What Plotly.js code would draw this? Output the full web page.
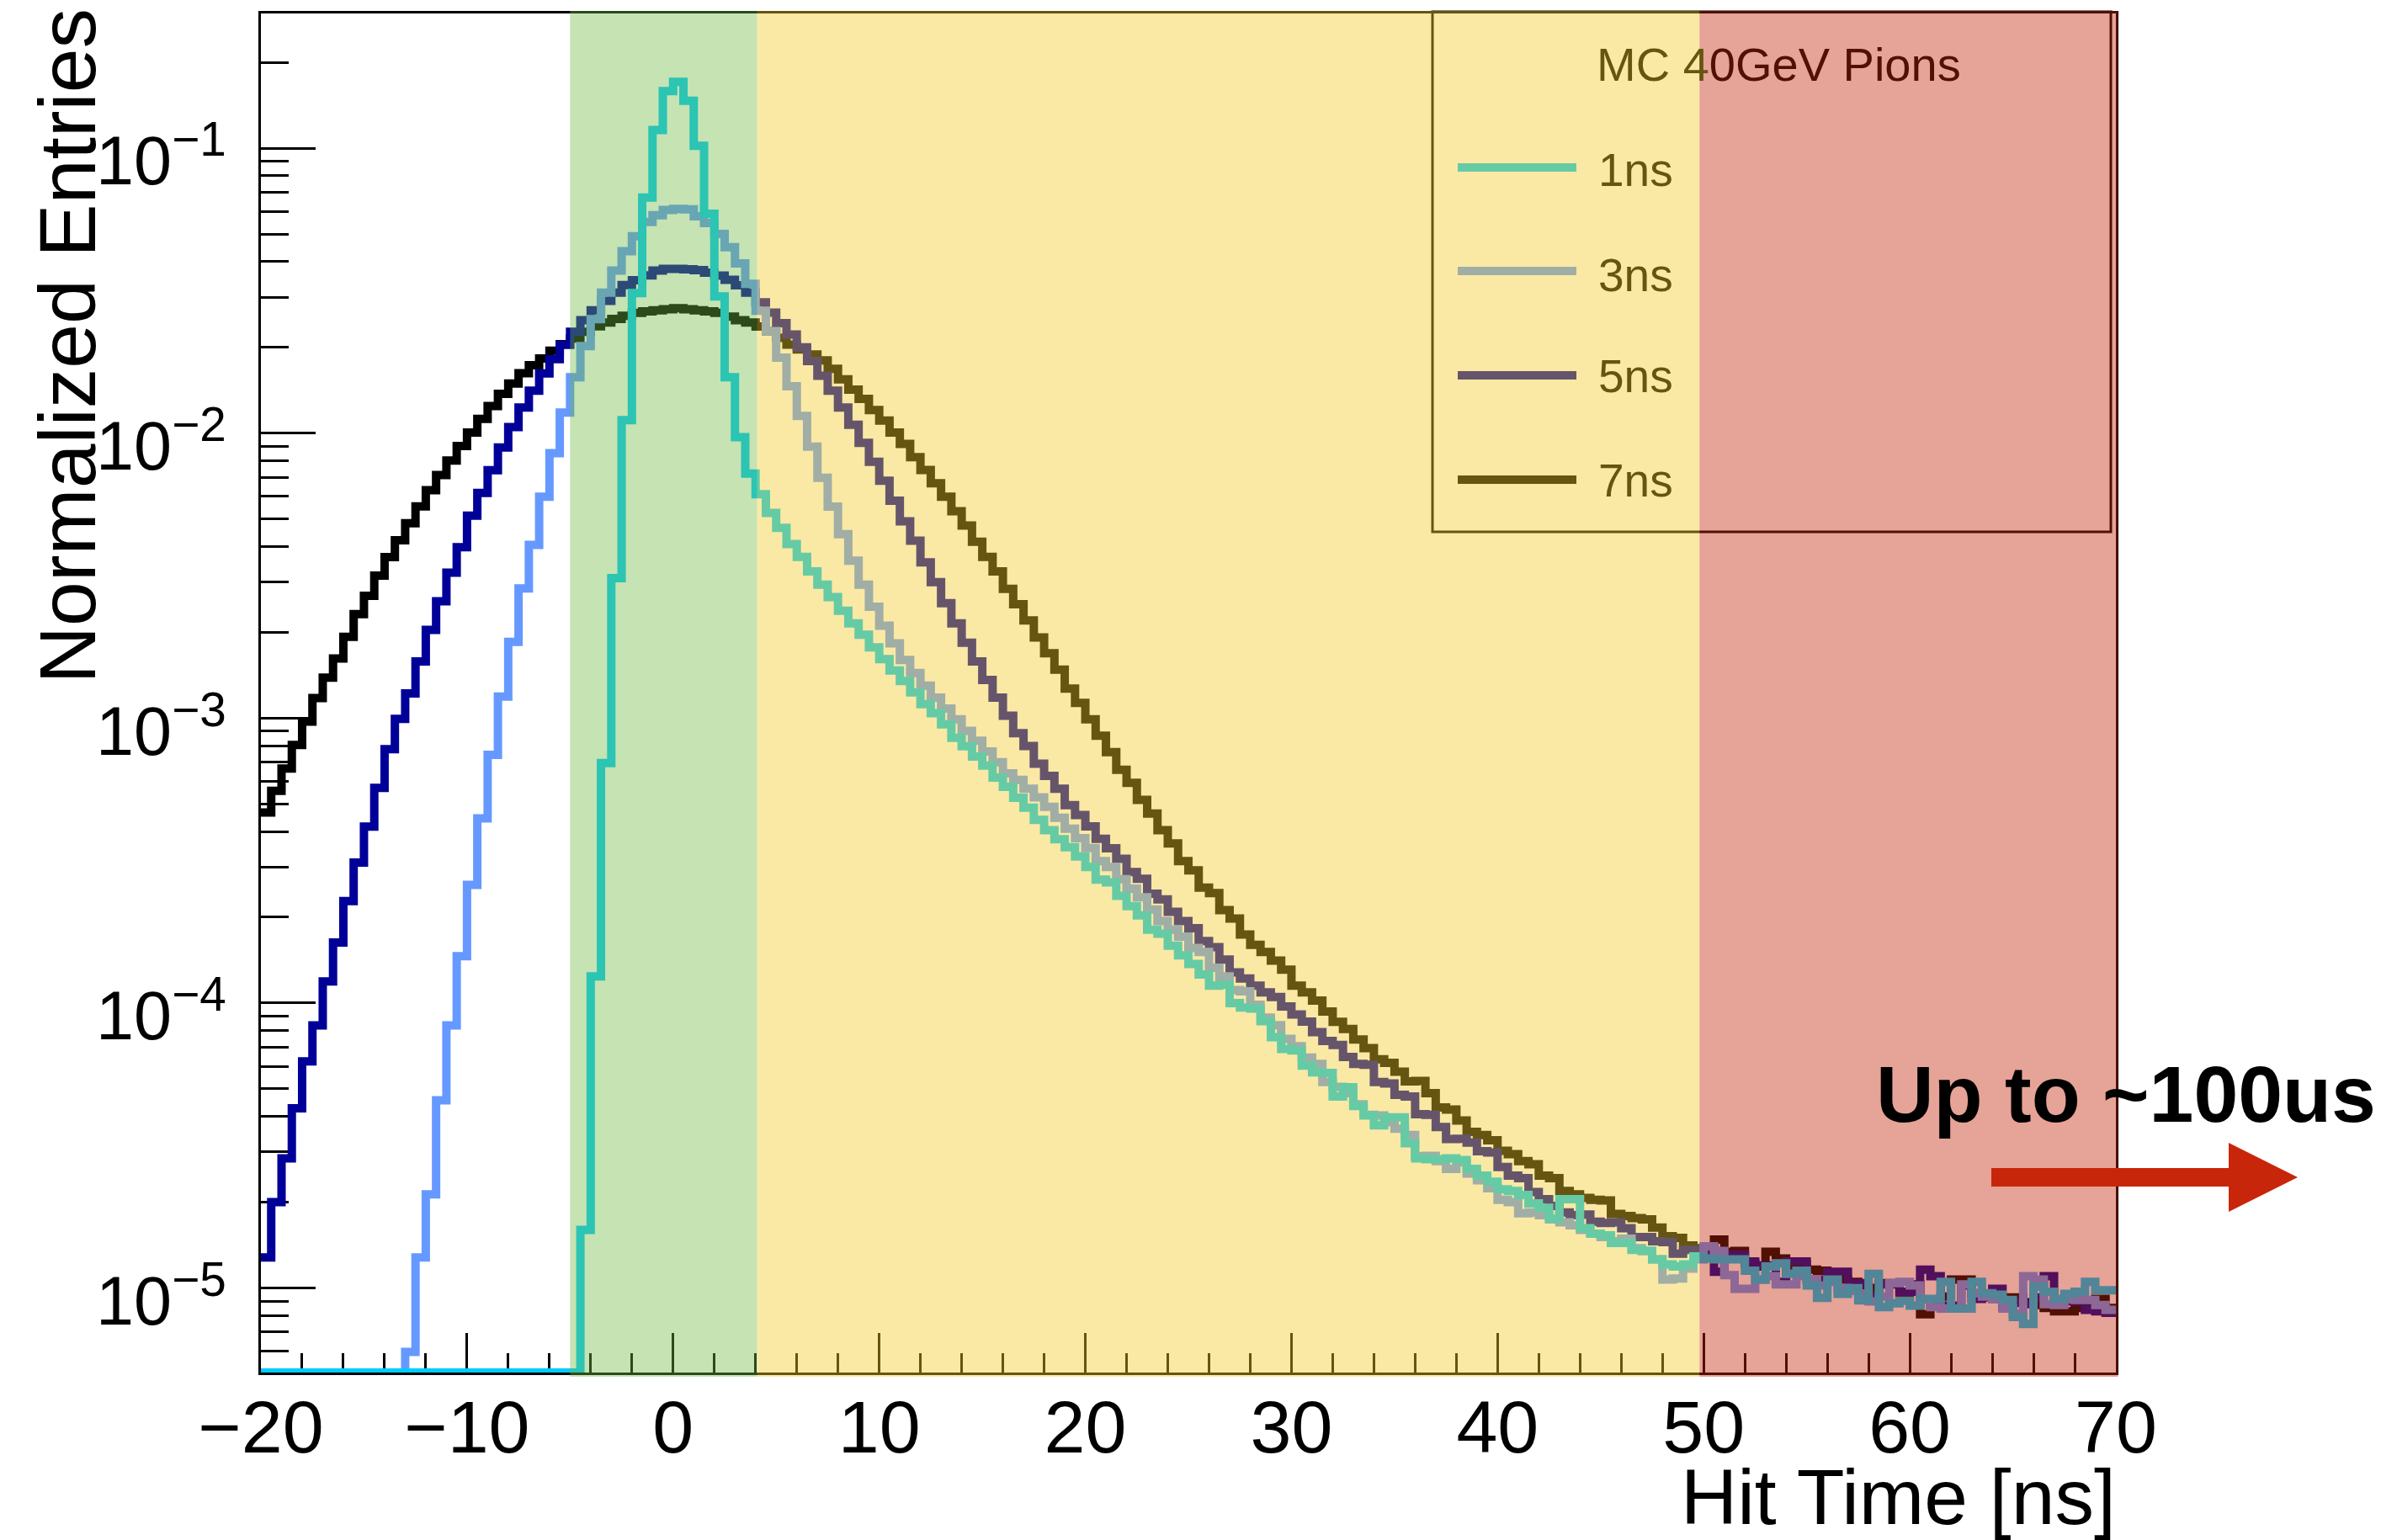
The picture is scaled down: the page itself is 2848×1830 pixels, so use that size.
<!DOCTYPE html>
<html>
<head>
<meta charset="utf-8">
<script src="https://cdn.plot.ly/plotly-3.0.1.min.js"></script>
<style>
html,body{margin:0;padding:0;background:#ffffff;}
#chart{width:2848px;height:1830px;}
</style>
</head>
<body>
<div id="chart"></div>
<script>
// ---------------- DATA ----------------
// Histograms of hit time, 180 bins of 0.5 ns from -20 ns to 70 ns (bin i = [-20+0.5i, -19.5+0.5i]).
const binLow = -20;
const binWidth = 0.5;
const seriesNames = ['1ns', '3ns', '5ns', '7ns'];
const legendTitle = 'MC 40GeV Pions';
const xTitle = 'Hit Time [ns]';
const yTitle = 'Normalized Entries';
const noteText = 'Up to ~100us';
const xTickVals = [-20, -10, 0, 10, 20, 30, 40, 50, 60, 70];
const yTickVals = [1e-5, 1e-4, 1e-3, 1e-2, 1e-1];
const yTickText = ['10<sup>\u22125</sup>', '10<sup>\u22124</sup>', '10<sup>\u22123</sup>', '10<sup>\u22122</sup>', '10<sup>\u22121</sup>'];

const entries1ns = [
  0,0,0,0,0,0,0,0,0,0, 0,0,0,0,0,0,0,0,0,0, 0,0,0,0,0,0,0,0,0,0, 0,
  1.60e-5, 1.24e-4, 6.95e-4, 3.10e-3, 1.11e-2, 3.10e-2, 6.71e-2, 1.159e-1, 1.585e-1,
  1.710e-1, 1.466e-1, 1.019e-1, 5.89e-2, 3.02e-2, 1.57e-2, 9.68e-3, 7.21e-3, 6.11e-3, 5.25e-3,
  4.65e-3, 4.08e-3, 3.68e-3, 3.27e-3, 2.94e-3, 2.66e-3, 2.38e-3, 2.15e-3, 1.96e-3, 1.77e-3,
  1.61e-3, 1.47e-3, 1.35e-3, 1.23e-3, 1.12e-3, 1.04e-3, 9.51e-4, 8.53e-4, 7.96e-4, 7.33e-4,
  6.81e-4, 6.18e-4, 5.74e-4, 5.25e-4, 4.85e-4, 4.39e-4, 4.04e-4, 3.76e-4, 3.52e-4, 3.27e-4,
  3.00e-4, 2.71e-4, 2.65e-4, 2.38e-4, 2.19e-4, 2.03e-4, 1.81e-4, 1.75e-4, 1.59e-4, 1.47e-4,
  1.37e-4, 1.26e-4, 1.15e-4, 1.16e-4, 1.00e-4, 9.64e-5, 9.57e-5, 8.63e-5, 7.59e-5, 6.90e-5,
  6.82e-5, 6.03e-5, 5.71e-5, 5.68e-5, 4.70e-5, 5.06e-5, 4.35e-5, 4.03e-5, 3.72e-5, 3.97e-5,
  3.97e-5, 3.22e-5, 2.85e-5, 2.83e-5, 2.83e-5, 2.85e-5, 2.81e-5, 2.62e-5, 2.48e-5, 2.36e-5,
  2.22e-5, 2.19e-5, 2.12e-5, 1.98e-5, 1.91e-5, 1.75e-5, 2.05e-5, 2.05e-5, 1.62e-5, 1.55e-5,
  1.53e-5, 1.44e-5, 1.44e-5, 1.36e-5, 1.35e-5, 1.26e-5, 1.21e-5, 1.19e-5, 1.21e-5, 1.29e-5,
  1.27e-5, 1.26e-5, 1.26e-5, 1.26e-5, 1.15e-5, 1.07e-5, 1.19e-5, 1.22e-5, 1.12e-5, 1.15e-5,
  1.02e-5, 9.23e-6, 1.07e-5, 9.53e-6, 9.98e-6, 9.04e-6, 1.12e-5, 8.57e-6, 8.83e-6, 9.02e-6,
  8.67e-6, 9.16e-6, 9.16e-6, 1.05e-5, 8.47e-6, 8.47e-6, 1.05e-5, 9.59e-6, 9.48e-6, 9.08e-6,
  7.91e-6, 7.48e-6, 1.01e-5, 9.70e-6, 9.16e-6, 9.53e-6, 9.70e-6, 1.05e-5, 9.82e-6, 9.82e-6
];

const entries3ns = [
  0,0,0,0,0,0,0,0,0,0, 0,0,0,0,
  5.97e-6, 1.28e-5, 2.13e-5, 4.56e-5, 8.34e-5, 1.46e-4,
  2.60e-4, 4.45e-4, 7.43e-4, 1.19e-3, 1.85e-3, 2.85e-3, 4.05e-3, 5.98e-3, 8.51e-3, 1.18e-2,
  1.57e-2, 2.02e-2, 2.51e-2, 3.11e-2, 3.72e-2, 4.35e-2, 4.91e-2, 5.51e-2, 5.82e-2, 6.07e-2,
  6.12e-2, 6.10e-2, 5.77e-2, 5.46e-2, 5.00e-2, 4.49e-2, 3.94e-2, 3.34e-2, 2.69e-2, 2.28e-2,
  1.84e-2, 1.46e-2, 1.15e-2, 8.97e-3, 6.97e-3, 5.52e-3, 4.42e-3, 3.57e-3, 2.94e-3, 2.46e-3,
  2.11e-3, 1.83e-3, 1.60e-3, 1.44e-3, 1.30e-3, 1.18e-3, 1.08e-3, 9.91e-4, 9.02e-4, 8.32e-4,
  7.64e-4, 7.00e-4, 6.40e-4, 6.07e-4, 5.65e-4, 5.27e-4, 4.88e-4, 4.47e-4, 4.09e-4, 3.79e-4,
  3.50e-4, 3.15e-4, 3.00e-4, 2.72e-4, 2.52e-4, 2.35e-4, 2.13e-4, 1.94e-4, 1.81e-4, 1.71e-4,
  1.56e-4, 1.51e-4, 1.33e-4, 1.24e-4, 1.11e-4, 1.10e-4, 9.86e-5, 8.89e-5, 8.36e-5, 7.48e-5,
  7.05e-5, 6.43e-5, 6.11e-5, 5.28e-5, 5.08e-5, 4.83e-5, 4.41e-5, 4.05e-5, 4.03e-5, 3.82e-5,
  3.62e-5, 3.44e-5, 2.90e-5, 2.91e-5, 2.79e-5, 2.62e-5, 2.76e-5, 2.52e-5, 2.39e-5, 2.24e-5,
  2.04e-5, 2.00e-5, 1.83e-5, 1.84e-5, 1.80e-5, 1.74e-5, 1.70e-5, 1.66e-5, 1.60e-5, 1.55e-5,
  1.51e-5, 1.46e-5, 1.49e-5, 1.38e-5, 1.35e-5, 1.26e-5, 1.07e-5, 1.08e-5, 1.17e-5, 1.26e-5,
  1.40e-5, 1.35e-5, 1.11e-5, 9.93e-6, 9.93e-6, 1.07e-5, 1.10e-5, 1.03e-5, 1.03e-5, 1.10e-5,
  1.07e-5, 1.02e-5, 1.05e-5, 1.00e-5, 9.77e-6, 9.55e-6, 8.97e-6, 9.33e-6, 1.04e-5, 1.05e-5,
  1.02e-5, 9.12e-6, 8.57e-6, 8.47e-6, 8.47e-6, 1.03e-5, 9.59e-6, 9.33e-6, 9.12e-6, 8.47e-6,
  8.13e-6, 1.10e-5, 1.07e-5, 8.77e-6, 8.71e-6, 9.12e-6, 9.08e-6, 9.08e-6, 8.71e-6, 8.38e-6
];

const entries5ns = [
  1.28e-5, 2.00e-5, 2.85e-5, 4.27e-5, 6.24e-5, 8.34e-5, 1.19e-4, 1.63e-4, 2.28e-4, 3.11e-4,
  4.16e-4, 5.69e-4, 7.78e-4, 9.93e-4, 1.22e-3, 1.58e-3, 2.04e-3, 2.57e-3, 3.24e-3, 3.98e-3,
  5.13e-3, 6.17e-3, 7.41e-3, 8.91e-3, 1.05e-2, 1.23e-2, 1.41e-2, 1.62e-2, 1.82e-2, 2.04e-2,
  2.27e-2, 2.49e-2, 2.70e-2, 2.91e-2, 3.11e-2, 3.31e-2, 3.44e-2, 3.58e-2, 3.72e-2, 3.77e-2,
  3.77e-2, 3.76e-2, 3.73e-2, 3.66e-2, 3.57e-2, 3.45e-2, 3.30e-2, 3.11e-2, 2.88e-2, 2.65e-2,
  2.43e-2, 2.22e-2, 2.00e-2, 1.79e-2, 1.59e-2, 1.41e-2, 1.23e-2, 1.07e-2, 9.25e-3, 7.93e-3,
  6.81e-3, 5.79e-3, 4.90e-3, 4.19e-3, 3.52e-3, 3.00e-3, 2.53e-3, 2.15e-3, 1.84e-3, 1.58e-3,
  1.36e-3, 1.18e-3, 1.02e-3, 8.85e-4, 7.98e-4, 6.92e-4, 6.27e-4, 5.65e-4, 4.95e-4, 4.57e-4,
  4.17e-4, 3.77e-4, 3.49e-4, 3.21e-4, 2.88e-4, 2.73e-4, 2.42e-4, 2.31e-4, 2.09e-4, 1.94e-4,
  1.83e-4, 1.65e-4, 1.57e-4, 1.42e-4, 1.28e-4, 1.22e-4, 1.15e-4, 1.09e-4, 1.05e-4, 9.73e-5,
  9.12e-5, 8.61e-5, 7.91e-5, 7.36e-5, 7.13e-5, 6.47e-5, 6.11e-5, 6.07e-5, 5.28e-5, 5.22e-5,
  4.76e-5, 4.70e-5, 4.07e-5, 4.05e-5, 3.67e-5, 3.33e-5, 3.34e-5, 3.24e-5, 3.02e-5, 2.99e-5,
  2.66e-5, 2.48e-5, 2.43e-5, 2.17e-5, 2.05e-5, 1.94e-5, 1.84e-5, 1.80e-5, 1.81e-5, 1.71e-5,
  1.69e-5, 1.70e-5, 1.62e-5, 1.51e-5, 1.51e-5, 1.46e-5, 1.45e-5, 1.32e-5, 1.36e-5, 1.36e-5,
  1.36e-5, 1.14e-5, 1.31e-5, 1.31e-5, 1.24e-5, 1.20e-5, 1.20e-5, 1.05e-5, 1.24e-5, 1.24e-5,
  1.07e-5, 1.07e-5, 1.14e-5, 1.14e-5, 1.04e-5, 1.04e-5, 9.38e-6, 1.03e-5, 1.03e-5, 9.70e-6,
  9.70e-6, 1.16e-5, 1.10e-5, 8.67e-6, 8.67e-6, 1.02e-5, 9.16e-6, 9.27e-6, 9.93e-6, 8.57e-6,
  8.87e-6, 8.77e-6, 9.27e-6, 1.10e-5, 8.97e-6, 8.97e-6, 8.97e-6, 8.38e-6, 8.28e-6, 8.18e-6
];

const entries7ns = [
  4.66e-4, 5.56e-4, 6.65e-4, 8.05e-4, 9.72e-4, 1.175e-3, 1.387e-3, 1.618e-3, 1.928e-3, 2.317e-3,
  2.685e-3, 3.162e-3, 3.673e-3, 4.207e-3, 4.831e-3, 5.534e-3, 6.310e-3, 7.129e-3, 8.017e-3, 9.016e-3,
  1.005e-2, 1.122e-2, 1.245e-2, 1.374e-2, 1.493e-2, 1.622e-2, 1.730e-2, 1.828e-2, 1.945e-2, 2.051e-2,
  2.148e-2, 2.270e-2, 2.371e-2, 2.443e-2, 2.518e-2, 2.582e-2, 2.642e-2, 2.673e-2, 2.698e-2, 2.723e-2,
  2.742e-2, 2.723e-2, 2.698e-2, 2.673e-2, 2.642e-2, 2.564e-2, 2.489e-2, 2.443e-2, 2.366e-2, 2.280e-2,
  2.158e-2, 2.046e-2, 1.968e-2, 1.888e-2, 1.799e-2, 1.683e-2, 1.545e-2, 1.422e-2, 1.318e-2, 1.205e-2,
  1.107e-2, 1.005e-2, 9.16e-3, 8.24e-3, 7.43e-3, 6.67e-3, 5.98e-3, 5.32e-3, 4.74e-3, 4.16e-3,
  3.68e-3, 3.27e-3, 2.84e-3, 2.51e-3, 2.20e-3, 1.92e-3, 1.69e-3, 1.48e-3, 1.27e-3, 1.13e-3,
  9.91e-4, 8.67e-4, 7.59e-4, 6.59e-4, 5.93e-4, 5.16e-4, 4.62e-4, 4.04e-4, 3.63e-4, 3.15e-4,
  2.92e-4, 2.54e-4, 2.43e-4, 2.12e-4, 1.98e-4, 1.74e-4, 1.60e-4, 1.51e-4, 1.41e-4, 1.31e-4,
  1.15e-4, 1.09e-4, 1.02e-4, 9.33e-5, 8.59e-5, 8.11e-5, 7.45e-5, 6.95e-5, 6.35e-5, 6.17e-5,
  5.74e-5, 5.31e-5, 5.33e-5, 4.83e-5, 4.30e-5, 4.23e-5, 3.87e-5, 3.53e-5, 3.44e-5, 3.30e-5,
  3.03e-5, 2.95e-5, 2.79e-5, 2.72e-5, 2.48e-5, 2.43e-5, 2.19e-5, 2.13e-5, 2.07e-5, 2.04e-5,
  2.03e-5, 1.82e-5, 1.79e-5, 1.76e-5, 1.74e-5, 1.63e-5, 1.52e-5, 1.50e-5, 1.41e-5, 1.38e-5,
  1.32e-5, 1.48e-5, 1.34e-5, 1.35e-5, 1.22e-5, 1.19e-5, 1.34e-5, 1.27e-5, 1.20e-5, 1.21e-5,
  1.16e-5, 1.15e-5, 1.12e-5, 1.07e-5, 1.05e-5, 1.02e-5, 1.00e-5, 1.04e-5, 1.04e-5, 9.12e-6,
  1.03e-5, 8.09e-6, 8.71e-6, 9.33e-6, 1.07e-5, 1.07e-5, 9.59e-6, 9.33e-6, 9.12e-6, 9.27e-6,
  9.27e-6, 8.91e-6, 8.71e-6, 8.51e-6, 8.28e-6, 8.28e-6, 8.51e-6, 8.71e-6, 9.16e-6, 8.51e-6
];

// Shaded time windows (ns) drawn over the plot
const windowGreen = [-5, 4.07];
const windowYellow = [4.07, 49.8];
const windowRed = [49.8, 70.1];

// ---------------- STYLE ----------------
const FONT = 'Liberation Sans, Arial, Helvetica, sans-serif';
const lineColors = { '1ns': '#00ccff', '3ns': '#6699ff', '5ns': '#000099', '7ns': '#000000' };
const LINE_W = 10;
const X_RANGE = [-20, 70];
const Y_MIN = 5.05e-6, Y_MAX = 0.297;

// plot-area geometry (pixels on the 2848x1830 page)
const W = 2848, H = 1830;
const PL = 310, PR = 2514, PT = 16, PB = 1631;
const px = p => (p - PL) / (PR - PL);      // page x pixel -> paper x
const py = p => (PB - p) / (PB - PT);      // page y pixel -> paper y
const dx = v => (v - X_RANGE[0]) / (X_RANGE[1] - X_RANGE[0]); // data x -> paper x

// ---------------- TRACES ----------------
const dataBySeries = { '1ns': entries1ns, '3ns': entries3ns, '5ns': entries5ns, '7ns': entries7ns };
function edgesFor(vals) {
  const e = [];
  for (let i = 0; i <= vals.length; i++) e.push(binLow + i * binWidth);
  return e;
}
function stepValues(vals) {
  // empty bins are drawn on the bottom of the frame, as ROOT does on a log axis
  const y = vals.map(v => (v > 0 ? v : Y_MIN));
  y.push(y[y.length - 1]);
  return y;
}
const drawOrder = ['7ns', '5ns', '3ns', '1ns'];
const traces = drawOrder.map(name => ({
  type: 'scatter',
  mode: 'lines',
  name: name,
  x: edgesFor(dataBySeries[name]),
  y: stepValues(dataBySeries[name]),
  line: { shape: 'hv', color: lineColors[name], width: LINE_W, simplify: false },
  hoverinfo: 'skip',
  showlegend: false
}));

// ---------------- Y minor ticks ----------------
const yMinor = [];
for (let e = -6; e <= -1; e++) {
  for (let m = 2; m <= 9; m++) {
    const v = m * Math.pow(10, e);
    if (v > Y_MIN && v < Y_MAX) yMinor.push(v);
  }
}

// ---------------- SHAPES ----------------
const shapes = [];
// legend frame and keys (drawn before the colour windows so they get tinted like the reference)
shapes.push({ type: 'rect', xref: 'paper', yref: 'paper', layer: 'above',
  x0: px(1702), x1: px(2508), y0: py(632), y1: py(14),
  line: { color: '#000000', width: 3 }, fillcolor: 'rgba(0,0,0,0)' });
const legendRows = [199, 322, 446, 570];
seriesNames.forEach((name, i) => {
  shapes.push({ type: 'line', xref: 'paper', yref: 'paper', layer: 'above',
    x0: px(1732), x1: px(1873), y0: py(legendRows[i]), y1: py(legendRows[i]),
    line: { color: lineColors[name], width: LINE_W } });
});
// coloured time windows
const yLow = py(1636), yHigh = py(13);
shapes.push({ type: 'rect', xref: 'paper', yref: 'paper', layer: 'above',
  x0: dx(windowGreen[0]), x1: dx(windowGreen[1]), y0: yLow, y1: yHigh,
  fillcolor: '#6fb842', opacity: 0.40, line: { width: 0 } });
shapes.push({ type: 'rect', xref: 'paper', yref: 'paper', layer: 'above',
  x0: dx(windowYellow[0]), x1: dx(windowYellow[1]), y0: yLow, y1: yHigh,
  fillcolor: '#f3ca28', opacity: 0.42, line: { width: 0 } });
shapes.push({ type: 'rect', xref: 'paper', yref: 'paper', layer: 'above',
  x0: dx(windowRed[0]), x1: dx(windowRed[1]), y0: yLow, y1: yHigh,
  fillcolor: '#c32407', opacity: 0.42, line: { width: 0 } });
// red arrow
const A = { x0: 2366, xb: 2648, tip: 2730, yc: 1399, half: 11, head: 41 };
shapes.push({ type: 'path', xref: 'paper', yref: 'paper', layer: 'above',
  path: 'M ' + px(A.x0) + ',' + py(A.yc - A.half) +
        ' L ' + px(A.xb) + ',' + py(A.yc - A.half) +
        ' L ' + px(A.xb) + ',' + py(A.yc - A.head) +
        ' L ' + px(A.tip) + ',' + py(A.yc) +
        ' L ' + px(A.xb) + ',' + py(A.yc + A.head) +
        ' L ' + px(A.xb) + ',' + py(A.yc + A.half) +
        ' L ' + px(A.x0) + ',' + py(A.yc + A.half) + ' Z',
  fillcolor: '#c8260a', line: { width: 0 } });

// ---------------- ANNOTATIONS ----------------
const OLIVE = '#665511', DARKRED = '#520f03';
const annotations = [];
annotations.push({ xref: 'paper', yref: 'paper', x: px(79), y: py(9), xanchor: 'center', yanchor: 'top',
  text: yTitle, textangle: -90, showarrow: false, borderpad: 0, font: { family: FONT, size: 95, color: '#000' } });
annotations.push({ xref: 'paper', yref: 'paper', x: px(2515), y: py(1779), xanchor: 'right', yanchor: 'middle',
  text: xTitle, showarrow: false, borderpad: 0, font: { family: FONT, size: 93, color: '#000' } });
annotations.push({ xref: 'paper', yref: 'paper', x: px(2228), y: py(1300), xanchor: 'left', yanchor: 'middle',
  text: '<b>' + noteText + '</b>', showarrow: false, borderpad: 0, font: { family: FONT, size: 95, color: '#000' } });
annotations.push({ xref: 'paper', yref: 'paper', x: px(2113), y: py(77), xanchor: 'center', yanchor: 'middle',
  text: 'MC 4<span style="color:' + DARKRED + '">0GeV Pions</span>', showarrow: false, borderpad: 0,
  font: { family: FONT, size: 56, color: OLIVE } });
const legendTextRows = [202, 327, 447, 571];
seriesNames.forEach((name, i) => {
  annotations.push({ xref: 'paper', yref: 'paper', x: px(1898), y: py(legendTextRows[i]), xanchor: 'left', yanchor: 'middle',
    text: name, showarrow: false, borderpad: 0, font: { family: FONT, size: 55, color: OLIVE } });
});

// ---------------- LAYOUT ----------------
const layout = {
  width: W, height: H,
  margin: { l: PL, r: W - PR, t: PT, b: H - PB, pad: 0 },
  paper_bgcolor: '#ffffff', plot_bgcolor: '#ffffff',
  showlegend: false,
  font: { family: FONT, color: '#000000' },
  xaxis: {
    range: X_RANGE, tickmode: 'array', tickvals: xTickVals,
    ticks: 'inside', ticklen: 47, tickwidth: 3, tickcolor: '#000',
    showline: true, linewidth: 3, linecolor: '#000', mirror: true,
    showgrid: false, zeroline: false, layer: 'below traces',
    tickfont: { family: FONT, size: 88, color: '#000' }, ticklabelstandoff: -14,
    minor: { dtick: 2, tick0: 0, ticks: 'inside', ticklen: 23, tickwidth: 3, tickcolor: '#000', showgrid: false }
  },
  yaxis: {
    type: 'log', range: [Math.log10(Y_MIN), Math.log10(Y_MAX)],
    tickmode: 'array', tickvals: yTickVals, ticktext: yTickText,
    ticks: 'inside', ticklen: 65, tickwidth: 3, tickcolor: '#000',
    showline: true, linewidth: 3, linecolor: '#000', mirror: true,
    showgrid: false, zeroline: false, layer: 'below traces',
    tickfont: { family: FONT, size: 81, color: '#000' }, ticklabelstandoff: 22, ticklabelshift: 15,
    minor: { tickmode: 'array', tickvals: yMinor, ticks: 'inside', ticklen: 33, tickwidth: 3, tickcolor: '#000', showgrid: false }
  },
  shapes: shapes,
  annotations: annotations
};

Plotly.newPlot('chart', traces, layout, { staticPlot: true, displayModeBar: false });
</script>
</body>
</html>
